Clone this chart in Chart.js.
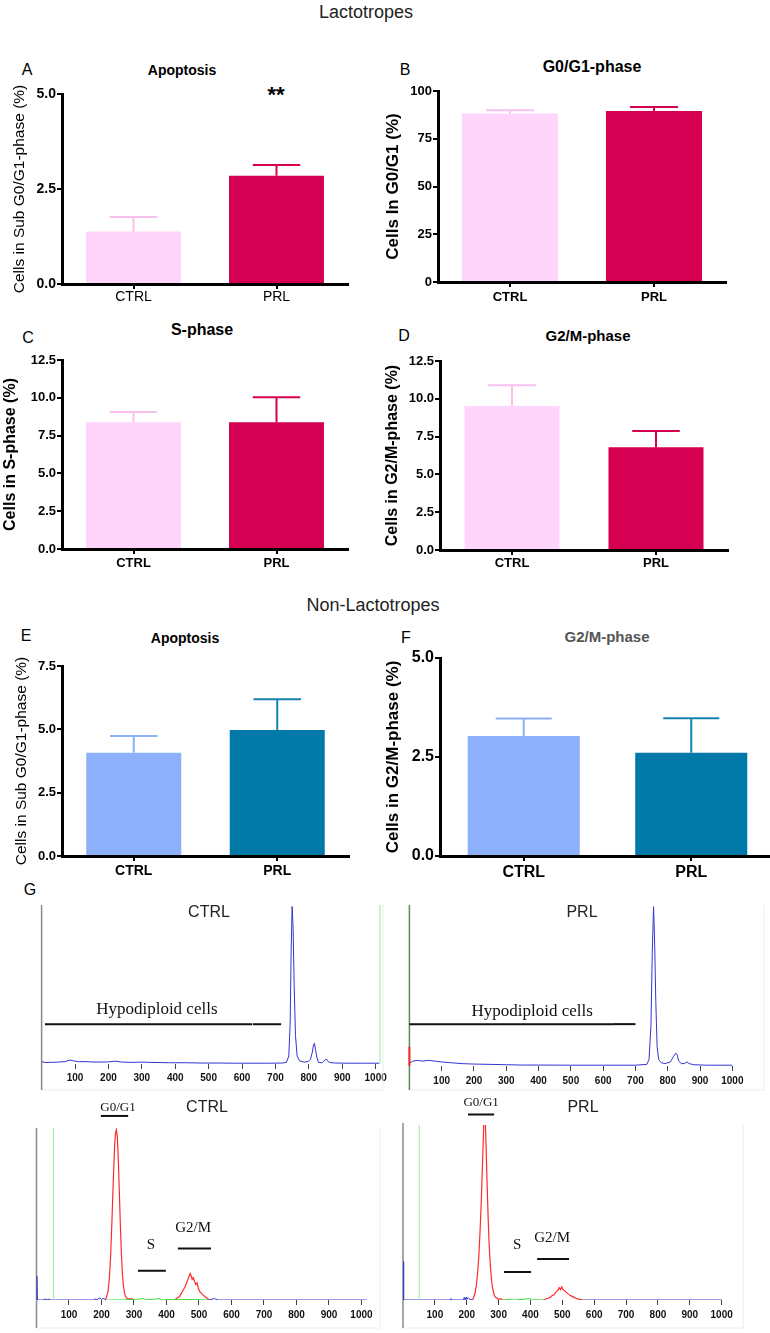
<!DOCTYPE html>
<html><head><meta charset="utf-8">
<script src="https://cdn.jsdelivr.net/npm/chart.js@4.4.1/dist/chart.umd.min.js"></script>
<style>
html,body{margin:0;padding:0;background:#fff;overflow:hidden;width:770px;height:1333px;position:relative;}
canvas{position:absolute;}
.t{position:absolute;font-family:"Liberation Sans",Arial,sans-serif;white-space:nowrap;transform:translate(-50%,-50%);line-height:1;color:#000;}
.b{font-weight:bold;}
</style></head><body>

<div class="t" style="left:366px;top:12px;font-size:18px;color:#222">Lactotropes</div>
<div class="t" style="left:373px;top:605px;font-size:18px;color:#222">Non-Lactotropes</div>

<div class="t" style="left:27px;top:70px;font-size:16px">A</div>
<div class="t" style="left:405px;top:70px;font-size:16px">B</div>
<div class="t" style="left:28px;top:338px;font-size:16px">C</div>
<div class="t" style="left:404px;top:336px;font-size:16px">D</div>
<div class="t" style="left:26px;top:636px;font-size:16px">E</div>
<div class="t" style="left:406px;top:638px;font-size:16px">F</div>
<div class="t" style="left:30px;top:890px;font-size:16px">G</div>

<div class="t b" style="left:182px;top:70px;font-size:14px">Apoptosis</div>
<div class="t b" style="left:592px;top:67px;font-size:16px">G0/G1-phase</div>
<div class="t b" style="left:202px;top:330px;font-size:16px">S-phase</div>
<div class="t b" style="left:588px;top:335px;font-size:15px">G2/M-phase</div>
<div class="t b" style="left:185px;top:638px;font-size:14px">Apoptosis</div>
<div class="t b" style="left:607px;top:636px;font-size:15px;color:#555">G2/M-phase</div>
<div class="t b" style="left:276px;top:95px;font-size:22px">**</div>

<canvas id="cA"></canvas>
<canvas id="cB"></canvas>
<canvas id="cC"></canvas>
<canvas id="cD"></canvas>
<canvas id="cE"></canvas>
<canvas id="cF"></canvas>
<canvas id="g1"></canvas>
<canvas id="g2"></canvas>
<canvas id="g3"></canvas>
<canvas id="g4"></canvas>

<div class="t" style="left:209px;top:912px;font-size:16px;color:#222">CTRL</div>
<div class="t" style="left:582px;top:912px;font-size:16px;color:#222">PRL</div>
<div class="t" style="left:207px;top:1107px;font-size:16px;color:#222">CTRL</div>
<div class="t" style="left:583px;top:1107px;font-size:16px;color:#222">PRL</div>

<script>
// ---------- data ----------
const groups = ['CTRL', 'PRL'];
// Lactotropes
const apopLacto = [1.38, 2.85];
const apopLactoErr = [0.38, 0.28];
const g0g1Lacto = [88.2, 89.5];
const g0g1LactoErr = [1.7, 2.1];
const sLacto = [8.38, 8.38];
const sLactoErr = [0.68, 1.65];
const g2mLacto = [9.52, 6.80];
const g2mLactoErr = [1.37, 1.07];
// Non-lactotropes
const apopNon = [4.08, 4.97];
const apopNonErr = [0.66, 1.22];
const g2mNon = [3.03, 2.61];
const g2mNonErr = [0.44, 0.87];
// tick values
const ticksA = [0, 2.5, 5];
const ticksB = [0, 25, 50, 75, 100];
const ticksCD = [0, 2.5, 5, 7.5, 10, 12.5];
const ticksE = [0, 2.5, 5, 7.5];
const ticksF = [0, 2.5, 5];
const histTicks = [100, 200, 300, 400, 500, 600, 700, 800, 900, 1000];

// Histograms [channel, count]
const ctrlHypo = [[0,1.5],[10,1],[30,1],[50,1.2],[70,1.5],[85,2.5],[95,2],[110,1.5],[130,1.5],[160,1.2],[200,1.3],[220,1.8],[240,1.2],[270,1],[300,1.2],[330,1],[380,0.8],[430,0.8],[480,0.6],[530,0.6],[580,0.5],[630,0.5],[680,0.5],[720,0.6],[733,1],[740,5],[744,25],[747,70],[750,99],[753,85],[756,50],[760,18],[765,5],[772,2],[785,1.2],[798,1.5],[805,3],[810,7],[814,12],[817,13],[820,9],[824,4],[829,1],[840,0.8],[848,2.5],[853,3],[858,1.5],[866,0.8],[880,0.6],[920,0.5],[960,0.5],[1010,0.5]];
const prlHypo = [[2,2],[10,3],[25,3.5],[40,3],[60,3.5],[80,3],[100,2.5],[130,2],[160,1.5],[200,1.2],[250,1],[300,0.8],[350,0.6],[400,0.6],[500,0.5],[600,0.5],[700,0.5],[735,1],[742,4],[748,25],[752,70],[756,99],[759,80],[763,40],[767,12],[772,4],[780,2],[792,1.5],[808,2.5],[818,6],[825,8],[829,7],[834,3],[842,1.5],[852,1.5],[860,2.5],[866,1.5],[880,0.8],[920,0.5],[1000,0.5]];
const prlZeroEvents = [[0,0],[0,12]];

const ctrlCycleBlueA = [[0,0],[1,14],[3,0],[20,0],[28,0.6],[30,0],[40,0.5],[42,0],[60,0],[100,0],[150,0],[175,0],[180,0.8],[183,0],[190,0.6],[195,1.2],[200,0.3],[205,1],[210,0.5],[214,0]];
const ctrlCycleG1 = [[212,0],[216,2],[220,5],[224,12],[228,25],[232,45],[236,68],[240,88],[243,97],[246,99],[249,94],[252,80],[255,62],[258,44],[261,28],[264,16],[267,9],[270,5],[274,2],[278,1],[284,0.5],[292,0.8],[300,0]];
const ctrlCycleS = [[214,0],[250,0],[300,0.2],[330,0.8],[332,0],[360,0.4],[380,0.8],[382,0],[400,0.3],[430,0.2],[480,0.3],[530,0]];
const ctrlCycleG2 = [[425,0],[432,1],[440,2],[446,4],[452,6],[458,8],[462,10],[466,12],[470,14],[473,15.5],[476,14],[479,12],[482,13],[486,11],[490,9],[494,10],[498,7],[502,5],[507,4],[512,3],[518,2],[525,1],[532,0]];
const ctrlCycleBlueB = [[530,0],[540,0.4],[548,1],[552,0.3],[560,0],[600,0],[700,0],[800,0],[900,0],[1016,0]];

const prlCycleBlueA = [[0,0],[1,22],[3,0],[20,0],[50,0],[100,0],[148,0],[150,0.8],[152,0],[190,0],[192,1.5],[195,0],[198,1.5],[200,0.5],[205,1.2],[210,0.4],[218,0]];
const prlCycleG1 = [[218,0],[222,1.5],[226,4],[230,8],[234,15],[238,25],[242,40],[246,58],[249,75],[252,92],[255,110],[258,104],[261,86],[264,66],[267,48],[270,33],[274,20],[278,11],[282,6],[286,3],[290,1.5],[296,1],[300,0.3],[306,0.8],[312,0]];
const prlCycleS = [[312,0],[330,0.3],[350,0],[380,0.5],[400,0.8],[402,0],[420,0.2],[440,0]];
const prlCycleG2 = [[440,0],[448,0.6],[455,1],[462,1.5],[468,2.5],[474,3],[480,4.5],[486,5.5],[490,7],[494,6],[498,7.5],[502,6],[506,5.5],[512,4.5],[518,3.5],[526,2.5],[534,1.8],[542,1],[552,0.5],[565,0]];
const prlCycleBlueB = [[565,0],[600,0],[700,0],[800,0],[900,0],[1000,0]];

// gates: [from, to, level]
const ctrlHypoGates = [[10,630,25],[632,717,25]];
const prlHypoGates = [[0,630,26],[630,700,26]];
const ctrlCycleGates = {g1:[198,282,107], s:[312,398,17], g2m:[435,537,30]};
const prlCycleGates = {g1:[204,286,106], s:[317,402,16], g2m:[421,521,23.4]};
const ctrlMarker = [1013];
const cycleMarkerCtrl = [52];
const cycleMarkerPrl = [51];

// ---------- colors ----------
const pinkC = '#ffd5fb', pinkP = '#d50052', pinkCErr = '#f7c0ee';
const blueC = '#8db0fb', blueP = '#0079a8', blueCErr = '#8db0fb', bluePErr = '#1782af';
const FONT = '"Liberation Sans", Arial, sans-serif';
const SERIF = '"Liberation Serif", "Times New Roman", serif';
Chart.defaults.font.family = FONT;

// ---------- plugins ----------
const errorBarPlugin = {
  id: 'errorBars',
  afterDatasetsDraw(chart, args, opts) {
    const meta = chart.getDatasetMeta(0), ys = chart.scales.y, ctx = chart.ctx;
    const vals = chart.data.datasets[0].data;
    meta.data.forEach((bar, i) => {
      const top = ys.getPixelForValue(vals[i] + opts.errors[i]);
      const w = bar.width * 0.5;
      ctx.save();
      ctx.strokeStyle = opts.colors[i]; ctx.lineWidth = 2;
      ctx.beginPath();
      ctx.moveTo(bar.x, bar.y); ctx.lineTo(bar.x, top);
      ctx.moveTo(bar.x - w / 2, top); ctx.lineTo(bar.x + w / 2, top);
      ctx.stroke(); ctx.restore();
    });
  }
};

const histPlugin = {
  id: 'histDeco',
  beforeDatasetsDraw(chart, args, o) {
    const a = chart.chartArea, ctx = chart.ctx;
    ctx.save();
    ctx.strokeStyle = '#ececec'; ctx.lineWidth = 1;
    ctx.beginPath();
    ctx.moveTo(a.left, a.bottom + o.bottomExt); ctx.lineTo(o.frameRight, a.bottom + o.bottomExt);
    ctx.lineTo(o.frameRight, a.top - o.topExt);
    ctx.stroke();
    ctx.strokeStyle = o.axisColor; ctx.lineWidth = 1.5;
    ctx.beginPath();
    ctx.moveTo(a.left, a.top - o.topExt); ctx.lineTo(a.left, a.bottom + o.bottomExt);
    ctx.stroke();
    ctx.restore();
  },
  afterDatasetsDraw(chart, args, o) {
    const ctx = chart.ctx, xs = chart.scales.x, ys = chart.scales.y;
    ctx.save();
    ctx.fillStyle = '#111'; ctx.textAlign = 'center'; ctx.textBaseline = 'middle';
    (o.texts || []).forEach(t => {
      ctx.font = t.font;
      ctx.fillText(t.text, xs.getPixelForValue(t.x), ys.getPixelForValue(t.y));
    });
    ctx.restore();
  }
};

// ---------- helpers ----------
function place(id, box) {
  const cv = document.getElementById(id);
  cv.width = box.w; cv.height = box.h;
  cv.style.left = box.x + 'px'; cv.style.top = box.y + 'px';
  cv.style.width = box.w + 'px'; cv.style.height = box.h + 'px';
  return cv.getContext('2d');
}

function barChart(id, box, area, o) {
  const ctx = place(id, box);
  return new Chart(ctx, {
    type: 'bar',
    data: { labels: groups, datasets: [{ data: o.values, backgroundColor: o.colors, borderWidth: 0, barPercentage: o.bp, categoryPercentage: 1 }] },
    options: {
      responsive: false, animation: false, events: [],
      layout: { padding: { left: o.padL, top: area.t - box.y, right: box.x + box.w - area.r, bottom: 0 } },
      plugins: { legend: { display: false }, tooltip: { enabled: false }, errorBars: { errors: o.errors, colors: o.errColors } },
      scales: {
        x: {
          grid: { display: true, drawOnChartArea: false, drawTicks: true, tickLength: 5, offset: false, color: '#000', lineWidth: 2 },
          border: { display: true, color: '#000', width: 3 },
          ticks: { color: '#000', font: o.xFont, padding: o.xPad },
          afterFit(s) { s.height = box.y + box.h - area.b; }
        },
        y: {
          min: o.ticks[0], max: o.ticks[o.ticks.length - 1],
          afterBuildTicks(s) { s.ticks = o.ticks.map(v => ({ value: v })); },
          ticks: { callback: o.fmt, color: '#000', font: o.yFont, padding: 1 },
          grid: { drawOnChartArea: false, drawTicks: true, tickLength: 5, color: '#000', lineWidth: 2 },
          border: { color: '#000', width: 3 },
          title: { display: true, text: o.ytitle, font: o.ytFont, color: '#000', padding: 0 },
          afterFit(s) { s.width = area.l - box.x - o.padL; }
        }
      }
    },
    plugins: [errorBarPlugin]
  });
}

function pts(arr) { return arr.map(p => ({ x: p[0], y: p[1] })); }
function ser(arr, color, w, noclip) {
  const d = { data: pts(arr), borderColor: color, borderWidth: w || 1, pointRadius: 0, tension: 0, fill: false };
  if (noclip) d.clip = false;
  return d;
}
function gateSeg(g) { return ser([[g[0], g[2]], [g[1], g[2]]], '#111', 2, true); }
function vline(x, color) { return ser([[x, 0], [x, 100]], color, 1, true); }

function histChart(id, box, area, o) {
  const ctx = place(id, box);
  return new Chart(ctx, {
    type: 'line',
    data: { datasets: o.datasets },
    options: {
      responsive: false, animation: false, events: [],
      layout: { padding: { left: area.l - box.x, top: area.t - box.y, right: box.x + box.w - area.r, bottom: 0 } },
      plugins: { legend: { display: false }, tooltip: { enabled: false },
        histDeco: { texts: o.texts, axisColor: o.axisColor, topExt: o.topExt, bottomExt: o.bottomExt, frameRight: area.r - box.x } },
      scales: {
        x: {
          type: 'linear', min: 0, max: o.max,
          afterBuildTicks(s) { s.ticks = histTicks.map(v => ({ value: v })); },
          ticks: { callback: v => String(v), color: '#111', font: { family: FONT, size: 10, weight: 'bold' }, padding: o.xPad, maxRotation: 0, autoSkip: false },
          grid: { drawOnChartArea: false, drawTicks: true, tickLength: 5, color: '#444', lineWidth: 1 },
          border: { display: false },
          afterFit(s) { s.height = box.y + box.h - area.b; }
        },
        y: { display: false, min: 0, max: 100 }
      }
    },
    plugins: [histPlugin]
  });
}

const f1 = v => v.toFixed(1);
const f0 = v => String(v);

// ---------- bar panels ----------
barChart('cA', { x: 0, y: 70, w: 385, h: 240 }, { l: 62, t: 94, r: 348, b: 284 }, {
  values: apopLacto, errors: apopLactoErr, colors: [pinkC, pinkP], errColors: [pinkCErr, pinkP], bp: 0.664,
  ticks: ticksA, fmt: f1, padL: 12, ytitle: 'Cells in Sub G0/G1-phase (%)',
  ytFont: { size: 15.5, weight: 'normal', lineHeight: 1 }, yFont: { size: 14, weight: 'bold' },
  xFont: { size: 14, weight: 'normal' }, xPad: 0
});
barChart('cB', { x: 385, y: 70, w: 385, h: 240 }, { l: 438, t: 91, r: 726, b: 282 }, {
  values: g0g1Lacto, errors: g0g1LactoErr, colors: [pinkC, pinkP], errColors: [pinkCErr, pinkP], bp: 0.667,
  ticks: ticksB, fmt: f0, padL: 0, ytitle: 'Cells In G0/G1 (%)',
  ytFont: { size: 17, weight: 'bold', lineHeight: 1 }, yFont: { size: 13, weight: 'bold' },
  xFont: { size: 13, weight: 'bold' }, xPad: 2.7
});
barChart('cC', { x: 0, y: 340, w: 385, h: 235 }, { l: 62, t: 360, r: 348, b: 549 }, {
  values: sLacto, errors: sLactoErr, colors: [pinkC, pinkP], errColors: [pinkCErr, pinkP], bp: 0.664,
  ticks: ticksCD, fmt: f1, padL: 2.5, ytitle: 'Cells in S-phase (%)',
  ytFont: { size: 16, weight: 'bold', lineHeight: 1 }, yFont: { size: 13, weight: 'bold' },
  xFont: { size: 13, weight: 'bold' }, xPad: 1.7
});
barChart('cD', { x: 385, y: 340, w: 385, h: 235 }, { l: 440, t: 361, r: 728, b: 550 }, {
  values: g2mLacto, errors: g2mLactoErr, colors: [pinkC, pinkP], errColors: [pinkCErr, pinkP], bp: 0.66,
  ticks: ticksCD, fmt: f1, padL: 0, ytitle: 'Cells in G2/M-phase (%)',
  ytFont: { size: 16, weight: 'bold', lineHeight: 1 }, yFont: { size: 13, weight: 'bold' },
  xFont: { size: 13, weight: 'bold' }, xPad: 0.7
});
barChart('cE', { x: 0, y: 645, w: 385, h: 240 }, { l: 62, t: 666, r: 349, b: 856 }, {
  values: apopNon, errors: apopNonErr, colors: [blueC, blueP], errColors: [blueCErr, bluePErr], bp: 0.662,
  ticks: ticksE, fmt: f1, padL: 14, ytitle: 'Cells in Sub G0/G1-phase (%)',
  ytFont: { size: 15.5, weight: 'normal', lineHeight: 1 }, yFont: { size: 13, weight: 'bold' },
  xFont: { size: 14, weight: 'bold' }, xPad: 2.2
});
barChart('cF', { x: 385, y: 645, w: 400, h: 240 }, { l: 440, t: 658, r: 775, b: 856 }, {
  values: g2mNon, errors: g2mNonErr, colors: [blueC, blueP], errColors: [blueCErr, bluePErr], bp: 0.669,
  ticks: ticksF, fmt: f1, padL: 0, ytitle: 'Cells in G2/M-phase (%)',
  ytFont: { size: 17, weight: 'bold', lineHeight: 1 }, yFont: { size: 16, weight: 'bold' },
  xFont: { size: 16, weight: 'bold' }, xPad: 2
});

// ---------- histogram panels ----------
const BLUE = '#3535d0', RED = '#ff2a2a', GREEN = '#3ddc3d', GATEGREEN = '#9be89b';

histChart('g1', { x: 0, y: 895, w: 400, h: 200 }, { l: 41.6, t: 905, r: 383, b: 1064 }, {
  max: 1022, xPad: 3.4, axisColor: '#8a8a8a', topExt: 0, bottomExt: 26,
  datasets: [ser(ctrlHypo, BLUE, 1), vline(ctrlMarker[0], GATEGREEN)].concat(ctrlHypoGates.map(gateSeg)),
  texts: [{ text: 'Hypodiploid cells', x: 345, y: 34, font: '17px ' + SERIF }]
});
histChart('g2', { x: 385, y: 895, w: 400, h: 200 }, { l: 409.4, t: 905, r: 764, b: 1066 }, {
  max: 1098, xPad: 4.4, axisColor: '#5f8a5f', topExt: 0, bottomExt: 24,
  datasets: [ser(prlHypo, BLUE, 1), ser(prlZeroEvents, RED, 2, true)].concat(prlHypoGates.map(gateSeg)),
  texts: [{ text: 'Hypodiploid cells', x: 380, y: 34, font: '17px ' + SERIF }]
});
histChart('g3', { x: 0, y: 1095, w: 400, h: 238 }, { l: 36.5, t: 1128, r: 380, b: 1300 }, {
  max: 1057, xPad: 4.4, axisColor: '#8a8a8a', topExt: 0, bottomExt: 28,
  datasets: [vline(cycleMarkerCtrl[0], GATEGREEN), ser(ctrlCycleS, GREEN, 1), ser(ctrlCycleBlueA, BLUE, 1), ser(ctrlCycleG1, RED, 1.2),
             ser(ctrlCycleG2, RED, 1.2), ser(ctrlCycleBlueB, BLUE, 1),
             gateSeg(ctrlCycleGates.g1), gateSeg(ctrlCycleGates.s), gateSeg(ctrlCycleGates.g2m)],
  texts: [{ text: 'G0/G1', x: 251, y: 112, font: '13px ' + SERIF },
          { text: 'S', x: 352, y: 32, font: '15px ' + SERIF },
          { text: 'G2/M', x: 482, y: 42, font: '15px ' + SERIF }]
});
histChart('g4', { x: 385, y: 1095, w: 400, h: 238 }, { l: 403, t: 1125, r: 743, b: 1300 }, {
  max: 1067, xPad: 4.4, axisColor: '#8a8a8a', topExt: 2, bottomExt: 28,
  datasets: [vline(cycleMarkerPrl[0], GATEGREEN), ser(prlCycleS, GREEN, 1), ser(prlCycleBlueA, BLUE, 1), ser(prlCycleG1, RED, 1.2),
             ser(prlCycleG2, RED, 1.2), ser(prlCycleBlueB, BLUE, 1),
             gateSeg(prlCycleGates.g1), gateSeg(prlCycleGates.s), gateSeg(prlCycleGates.g2m)],
  texts: [{ text: 'G0/G1', x: 245, y: 112.6, font: '13px ' + SERIF },
          { text: 'S', x: 358, y: 31.4, font: '15px ' + SERIF },
          { text: 'G2/M', x: 468, y: 35.4, font: '15px ' + SERIF }]
});
</script>
</body></html>
